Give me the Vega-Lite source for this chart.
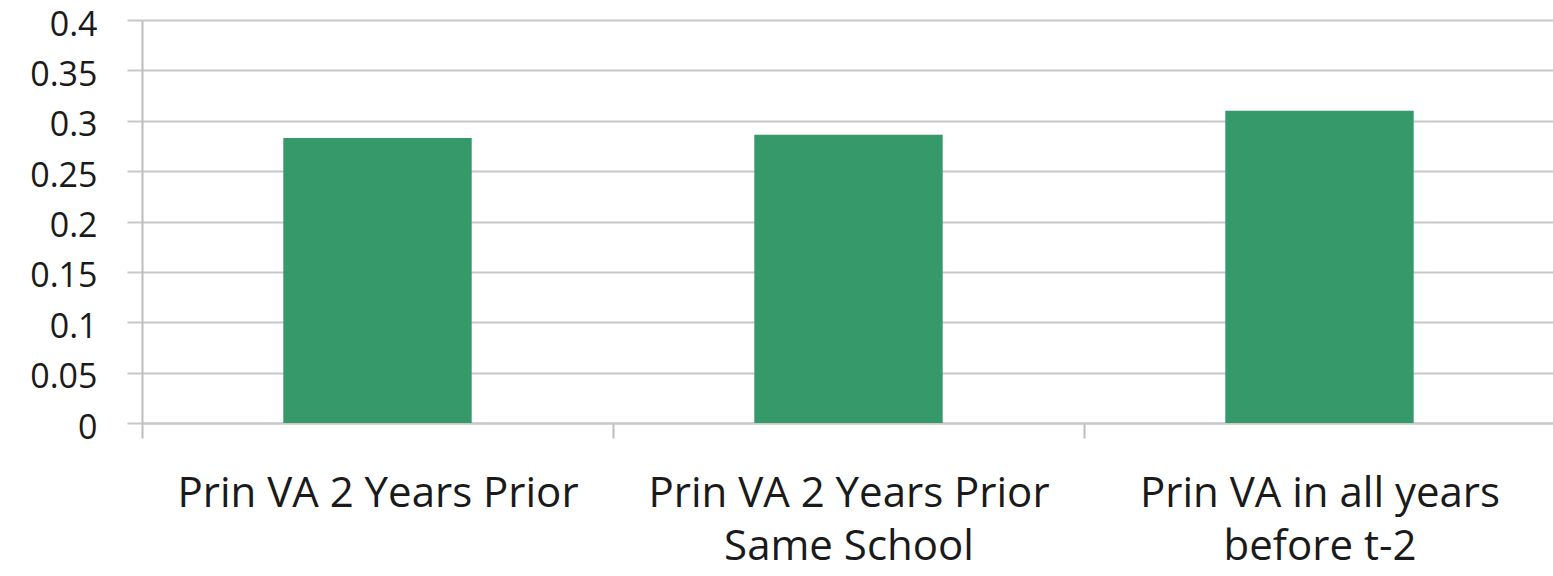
{
  "$schema": "https://vega.github.io/schema/vega-lite/v6.json",
  "autosize": "none",
  "width": 1413,
  "height": 403,
  "padding": {"left": 142, "top": 20, "right": 0, "bottom": 153},
  "background": "white",
  "config": {
    "view": {"stroke": null},
    "font": "Open Sans"
  },
  "data": {
    "values": [
      {"measure": "Prin VA 2 Years Prior", "value": 0.283},
      {"measure": "Prin VA 2 Years Prior Same School", "value": 0.286},
      {"measure": "Prin VA in all years before t-2", "value": 0.31}
    ]
  },
  "mark": {"type": "bar", "color": "#35996a", "width": {"band": 0.4}},
  "encoding": {
    "x": {
      "field": "measure",
      "type": "nominal",
      "sort": null,
      "scale": {"paddingInner": 0, "paddingOuter": 0},
      "axis": {
        "title": null,
        "labelAngle": 0,
        "tickBand": "extent",
        "tickSize": 15,
        "tickColor": "#bdbdbd",
        "tickWidth": 2,
        "domainColor": "#c8c8c8",
        "domainWidth": 2,
        "labelFont": "Open Sans",
        "labelFontSize": 42,
        "labelColor": "#1a1a1a",
        "labelPadding": 35,
        "labelLineHeight": 53,
        "labelBaseline": "top",
        "labelLimit": 0,
        "labelExpr": "datum.label == 'Prin VA 2 Years Prior Same School' ? ['Prin VA 2 Years Prior', 'Same School'] : datum.label == 'Prin VA in all years before t-2' ? ['Prin VA in all years', 'before t-2'] : datum.label"
      }
    },
    "y": {
      "field": "value",
      "type": "quantitative",
      "scale": {"domain": [0, 0.4], "nice": false},
      "axis": {
        "title": null,
        "values": [0, 0.05, 0.1, 0.15, 0.2, 0.25, 0.3, 0.35, 0.4],
        "format": "~g",
        "grid": true,
        "gridColor": "#c8c8c8",
        "gridWidth": 2,
        "tickSize": 15,
        "tickColor": "#c8c8c8",
        "tickWidth": 2,
        "domainColor": "#bdbdbd",
        "domainWidth": 2,
        "labelFont": "Open Sans",
        "labelFontSize": 34,
        "labelColor": "#1a1a1a",
        "labelPadding": 30,
        "labelOffset": 5
      }
    }
  }
}
